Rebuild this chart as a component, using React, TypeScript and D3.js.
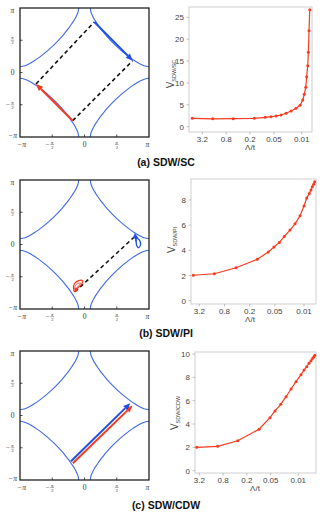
import React from "react";
import * as d3 from "d3";

// one quarter of the Fermi surface (upper right arc), in units of pi
const arcKx = [0.09, 0.1, 0.12, 0.15, 0.2, 0.25, 0.3, 0.35, 0.4, 0.45, 0.502, 0.557, 0.617, 0.681, 0.752, 0.828, 0.888, 0.938, 1.0];
const arcKy = [1.0, 0.938, 0.888, 0.828, 0.752, 0.681, 0.617, 0.557, 0.502, 0.45, 0.4, 0.35, 0.3, 0.25, 0.2, 0.15, 0.12, 0.1, 0.09];

// nesting vectors / arrows (units of pi): [x1, y1, x2, y2]
const dashedA = [[-0.183, -0.747, 0.748, 0.184], [-0.752, -0.178, 0.152, 0.784]];
const redArrowA = [-0.183, -0.747, -0.752, -0.178];
const blueArrowA = [0.152, 0.784, 0.748, 0.184];

const dashedB = [[-0.147, -0.733, 0.783, 0.128]];
const redLoopB = [[-0.15, -0.73], [-0.17, -0.66], [-0.15, -0.6], [-0.09, -0.56], [-0.03, -0.56], [-0.04, -0.61], [-0.1, -0.67], [-0.15, -0.73]];
const redInnerB = [[-0.14, -0.7], [-0.145, -0.64], [-0.09, -0.6], [-0.06, -0.6], [-0.1, -0.65], [-0.14, -0.7]];
const redArrowB = [-0.12, -0.67, -0.155, -0.74];
const blueLoopB = [[0.79, 0.14], [0.8, 0.11], [0.85, 0.07], [0.87, 0.0], [0.84, -0.05], [0.81, -0.02], [0.8, 0.06], [0.79, 0.14]];
const blueArrowB = [0.8, 0.05, 0.78, 0.18];

const redArrowC = [-0.18, -0.74, 0.745, 0.155];
const blueArrowC = [-0.21, -0.71, 0.71, 0.19];

// flow of the coupling vs cutoff
const lamSC = [5.72, 1.75, 0.53, 0.156, 0.0827, 0.0593, 0.0443, 0.0331, 0.0248, 0.0185, 0.0139, 0.011, 0.0094, 0.0086, 0.0079, 0.0075, 0.00705, 0.0068, 0.00654, 0.00627];
const vSC = [1.92, 1.8, 1.83, 1.92, 2.15, 2.29, 2.45, 2.67, 3.06, 3.59, 4.2, 4.89, 6.1, 7.4, 9.0, 11.4, 13.9, 17.0, 21.9, 26.7];

const lamPI = [4.45, 1.4, 0.423, 0.131, 0.0715, 0.0523, 0.0389, 0.0296, 0.0216, 0.0164, 0.01245, 0.01, 0.00862, 0.00747, 0.0068, 0.00633, 0.00586, 0.00555];
const vPI = [2.02, 2.14, 2.62, 3.29, 3.87, 4.26, 4.63, 5.11, 5.61, 6.11, 6.75, 7.52, 8.15, 8.52, 8.79, 9.05, 9.26, 9.44];

const lamCDW = [3.72, 1.096, 0.341, 0.0985, 0.052, 0.0388, 0.0278, 0.0204, 0.01527, 0.01142, 0.00853, 0.00716, 0.00612, 0.00535, 0.00477, 0.00432, 0.004, 0.00384];
const vCDW = [2.0, 2.09, 2.57, 3.55, 4.54, 5.12, 5.69, 6.34, 7.0, 7.63, 8.23, 8.63, 8.91, 9.2, 9.43, 9.63, 9.77, 9.89];

const lamTicks = [3.2, 0.8, 0.2, 0.05, 0.01];
const lamTickLabels = ["3.2", "0.8", "0.2", "0.05", "0.01"];
const kTicks = [-1, -0.5, 0, 0.5, 1];
const captions = ["(a) SDW/SC", "(b) SDW/PI", "(c) SDW/CDW"];

const FS = "#4169e8";
const RED = "#f5391f";
const BLUE = "#1f4fe6";
const LINE = "#fa3a1e";

const Arrow = ({ p, sx, sy, color, w = 2, hl = 7, hw = 3 }) => {
  const x1 = sx(p[0]), y1 = sy(p[1]), x2 = sx(p[2]), y2 = sy(p[3]);
  const a = Math.atan2(y2 - y1, x2 - x1);
  const bx = x2 - hl * Math.cos(a), by = y2 - hl * Math.sin(a);
  const px = -Math.sin(a) * hw, py = Math.cos(a) * hw;
  return (
    <g>
      <line x1={x1} y1={y1} x2={bx} y2={by} stroke={color} strokeWidth={w} />
      <polygon points={`${x2},${y2} ${bx + px},${by + py} ${bx - px},${by - py}`} fill={color} />
    </g>
  );
};

// pi/2 as a little stacked fraction
const PiHalf = ({ x, y, neg }) => (
  <g fill="#333" fontFamily="Liberation Serif" fontStyle="italic" textAnchor="middle">
    {neg && <text x={x - 4.5} y={y + 2} fontSize={7} fontStyle="normal">−</text>}
    <text x={x} y={y - 0.8} fontSize={4.5}>π</text>
    <line x1={x - 1.8} x2={x + 1.8} y1={y} y2={y} stroke="#333" strokeWidth={0.4} />
    <text x={x} y={y + 4.2} fontSize={4.5} fontStyle="normal">2</text>
  </g>
);

const kLabel = (v, x, y) => {
  if (Math.abs(v) === 0.5) return <PiHalf key={`${x}-${y}`} x={x} y={y} neg={v < 0} />;
  const t = v === 0 ? "0" : v < 0 ? "−π" : "π";
  return (
    <text key={`${x}-${y}`} x={x} y={y + 2.5} fontSize={7.5} textAnchor="middle" fill="#333"
      fontFamily="Liberation Serif" fontStyle={v === 0 ? "normal" : "italic"}>{t}</text>
  );
};

const BZPanel = ({ top, children }) => {
  const left = 20, size = 129;
  const sx = d3.scaleLinear().domain([-1, 1]).range([left, left + size]);
  const sy = d3.scaleLinear().domain([-1, 1]).range([top + size, top]);
  const arc = d3.line().curve(d3.curveCatmullRom);
  const signs = [[1, 1], [-1, 1], [1, -1], [-1, -1]];
  return (
    <g>
      {signs.map(([a, b], i) => (
        <path key={i} d={arc(arcKx.map((kx, j) => [sx(a * kx), sy(b * arcKy[j])]))}
          fill="none" stroke={FS} strokeWidth={1.1} />
      ))}
      {children(sx, sy)}
      <rect x={left} y={top} width={size} height={size} fill="none" stroke="#222" strokeWidth={1.3} />
      {[-0.5, 0, 0.5].map((v) => (
        <g key={v} stroke="#222" strokeWidth={0.8}>
          <line x1={sx(v)} x2={sx(v)} y1={top + size} y2={top + size - 2.5} />
          <line x1={left} x2={left + 2.5} y1={sy(v)} y2={sy(v)} />
        </g>
      ))}
      {kTicks.map((v) => kLabel(v, sx(v) + (v === -1 ? 1.5 : v === 1 ? -1.5 : 0), top + size + 7.5))}
      {kTicks.map((v) => kLabel(v, 12.5, sy(v) + (v === 1 ? 2 : v === -1 ? -1.5 : 0)))}
    </g>
  );
};

const FlowPanel = ({ f, lam, v, ticks, sub }) => {
  const sx = d3.scaleLog().domain([3.2, 0.01]).range([f.x32, f.x001]);
  const sy = d3.scaleLinear().domain([0, f.vTop]).range([f.y0, f.yTop]);
  const line = d3.line().x((d) => sx(d[0])).y((d) => sy(d[1]));
  const pts = lam.map((l, i) => [l, v[i]]);
  return (
    <g fontFamily="Liberation Sans, Arial, sans-serif">
      <rect x={f.l} y={f.t} width={f.r - f.l} height={f.b - f.t} fill="none" stroke="#cfcfcf" strokeWidth={1} />
      {ticks.map((t) => (
        <g key={t}>
          <line x1={f.l - 2.5} x2={f.l} y1={sy(t)} y2={sy(t)} stroke="#999" strokeWidth={0.6} />
          <text x={f.l - 5} y={sy(t) + 3} fontSize={8} textAnchor="end" fill="#444">{t}</text>
        </g>
      ))}
      {lamTicks.map((t, i) => (
        <g key={t}>
          <line x1={sx(t)} x2={sx(t)} y1={f.b} y2={f.b + 2.5} stroke="#999" strokeWidth={0.6} />
          <text x={sx(t)} y={f.b + 10} fontSize={8} textAnchor="middle" fill="#444">{lamTickLabels[i]}</text>
        </g>
      ))}
      <text x={(f.l + f.r) / 2 + f.tdx} y={f.b + 18} fontSize={8} textAnchor="middle" fill="#444">Λ/t</text>
      <text transform={`translate(${f.lx},${f.ly}) rotate(-90)`} textAnchor="middle" fill="#444" fontSize={10}>
        V<tspan fontSize={5.5} dy={2}>{sub}</tspan>
      </text>
      <path d={line(pts)} fill="none" stroke={LINE} strokeWidth={1.2} />
      {pts.map((d, i) => (
        <circle key={i} cx={sx(d[0])} cy={sy(d[1])} r={1.5} fill={LINE} />
      ))}
    </g>
  );
};

const flowFrames = [
  { l: 189, r: 312, t: 7, b: 132, x32: 202.3, x001: 301.7, y0: 126.7, yTop: 17.3, vTop: 25, lx: 174, ly: 74, tdx: -0.5 },
  { l: 191, r: 316, t: 179, b: 304, x32: 199.3, x001: 304, y0: 300.7, yTop: 200, vTop: 8, lx: 175, ly: 240, tdx: -3.5 },
  { l: 195, r: 316, t: 352, b: 473, x32: 199.3, x001: 298.3, y0: 470.7, yTop: 354, vTop: 10, lx: 178, ly: 413, tdx: -0.5 },
];

export default function App() {
  const dash = (p, sx, sy, i) => (
    <line key={i} x1={sx(p[0])} y1={sy(p[1])} x2={sx(p[2])} y2={sy(p[3])}
      stroke="#111" strokeWidth={1.6} strokeDasharray="4,3" />
  );
  const loop = (pts, sx, sy) => d3.line().curve(d3.curveCatmullRomClosed)(pts.slice(0, -1).map((d) => [sx(d[0]), sy(d[1])]));
  return (
    <svg width={323} height={519} style={{ position: "absolute", left: 0, top: 0, background: "#fff" }}>
      <BZPanel top={8}>
        {(sx, sy) => (
          <g>
            {dashedA.map((p, i) => dash(p, sx, sy, i))}
            <Arrow p={redArrowA} sx={sx} sy={sy} color={RED} />
            <Arrow p={blueArrowA} sx={sx} sy={sy} color={BLUE} />
          </g>
        )}
      </BZPanel>
      <BZPanel top={180}>
        {(sx, sy) => (
          <g>
            {dashedB.map((p, i) => dash(p, sx, sy, i))}
            <path d={loop(redLoopB, sx, sy)} fill="none" stroke={RED} strokeWidth={1.2} />
            <path d={loop(redInnerB, sx, sy)} fill="none" stroke={RED} strokeWidth={0.9} />
            <Arrow p={redArrowB} sx={sx} sy={sy} color={RED} w={1.2} hl={4} hw={2} />
            <path d={loop(blueLoopB, sx, sy)} fill="none" stroke={BLUE} strokeWidth={1.3} />
            <Arrow p={blueArrowB} sx={sx} sy={sy} color={BLUE} w={1.5} hl={5.5} hw={2.8} />
          </g>
        )}
      </BZPanel>
      <BZPanel top={351}>
        {(sx, sy) => (
          <g>
            <Arrow p={redArrowC} sx={sx} sy={sy} color={RED} />
            <Arrow p={blueArrowC} sx={sx} sy={sy} color={BLUE} />
          </g>
        )}
      </BZPanel>
      <FlowPanel f={flowFrames[0]} lam={lamSC} v={vSC} ticks={[0, 5, 10, 15, 20, 25]} sub="SDW/SC" />
      <FlowPanel f={flowFrames[1]} lam={lamPI} v={vPI} ticks={[0, 2, 4, 6, 8]} sub="SDW/PI" />
      <FlowPanel f={flowFrames[2]} lam={lamCDW} v={vCDW} ticks={[0, 2, 4, 6, 8, 10]} sub="SDW/CDW" />
      {captions.map((c, i) => (
        <text key={c} x={166} y={165.5 + i * 171.5} textAnchor="middle" fontSize={10.5} fontWeight="bold"
          fontFamily="Liberation Sans, Arial, sans-serif" fill="#111">{c}</text>
      ))}
    </svg>
  );
}
